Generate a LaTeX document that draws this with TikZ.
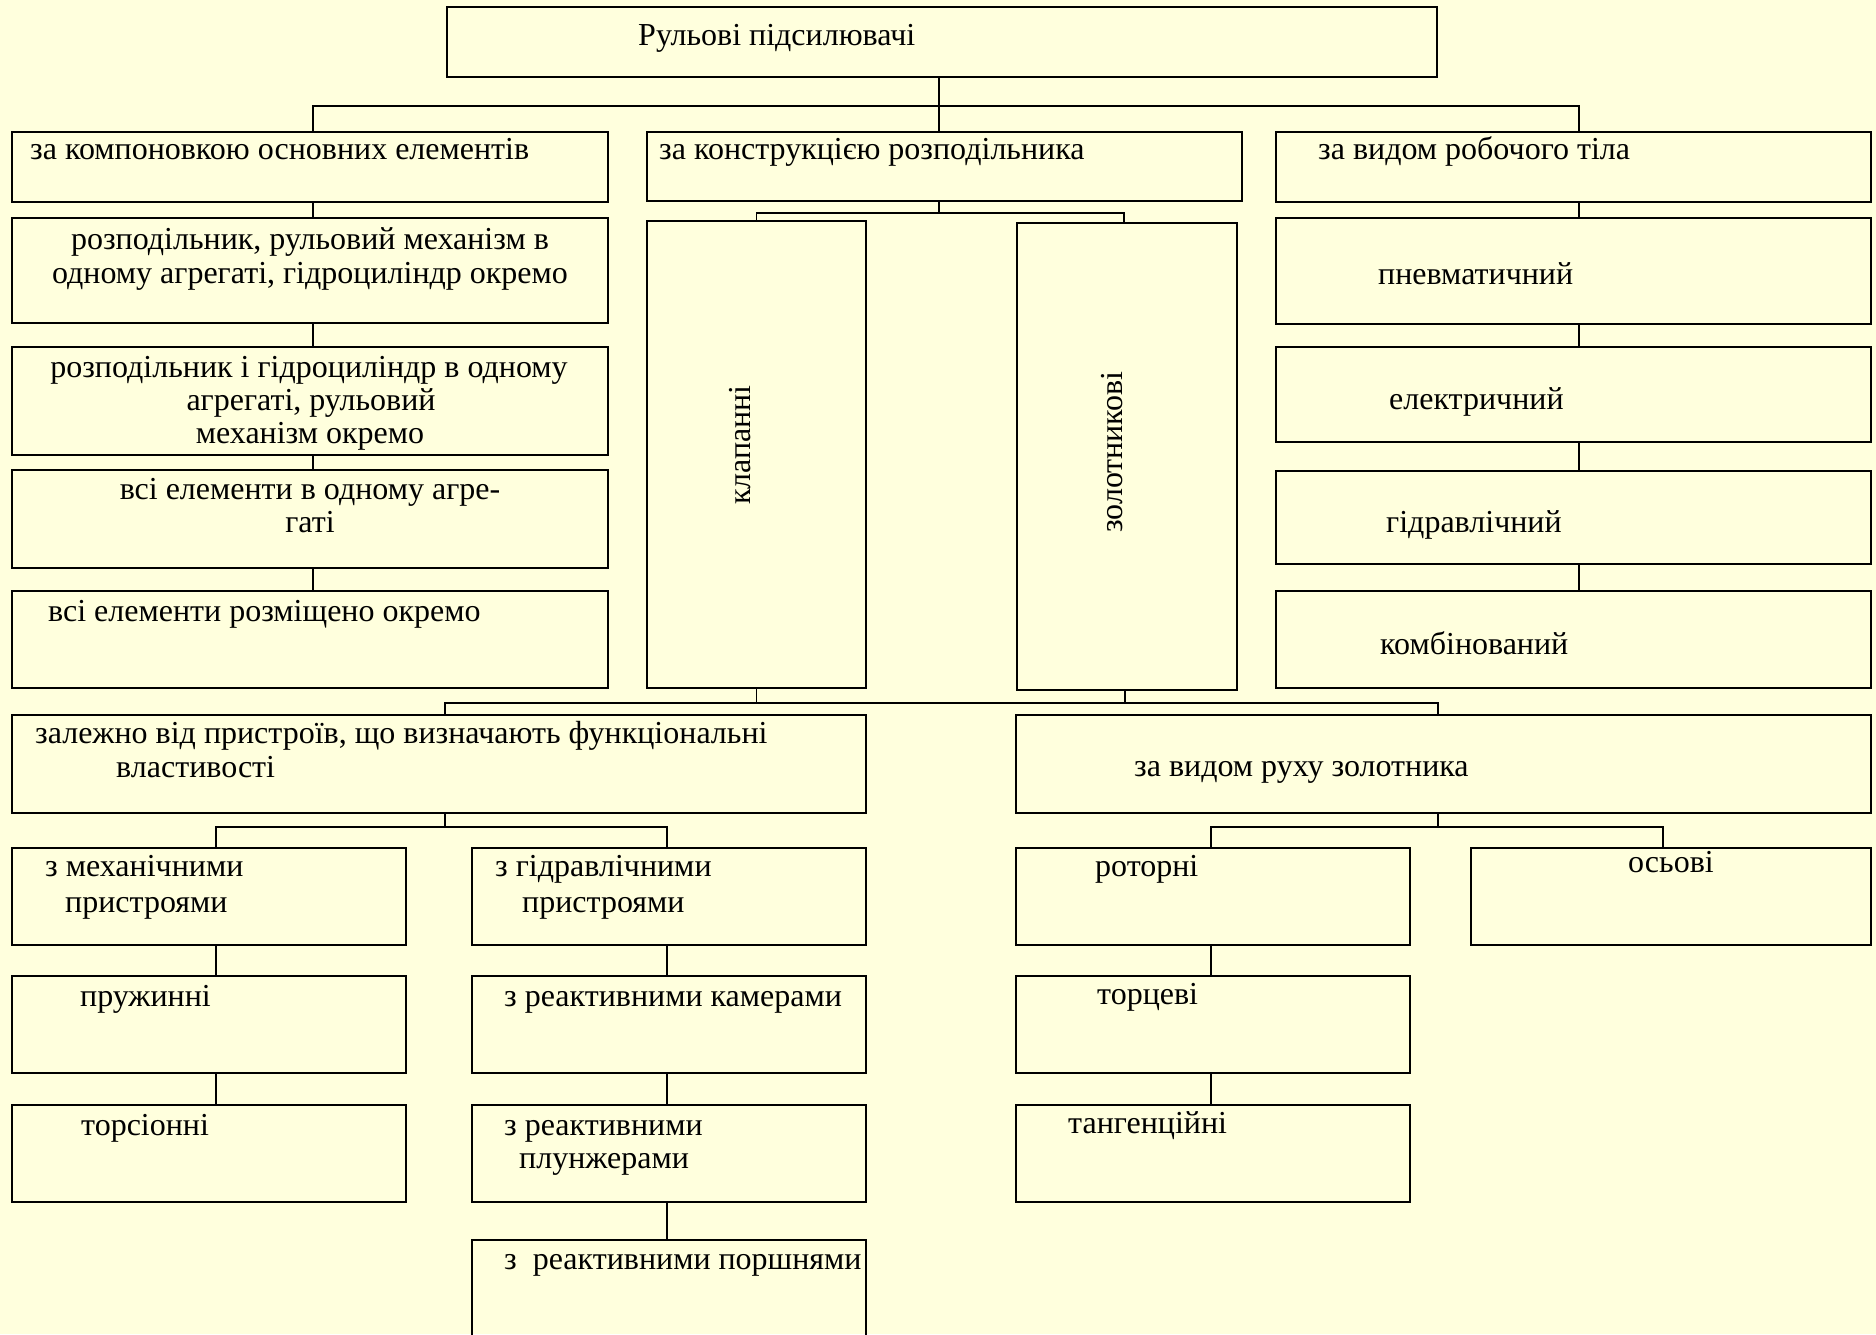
\documentclass[tikz,border=0pt]{standalone}
\usepackage{fontspec}
\setmainfont{Liberation Serif}
\definecolor{bg}{RGB}{255,255,221}
\tikzset{
  box/.style={draw=black, line width=2pt, inner sep=0pt, outer sep=0pt},
  conn/.style={draw=black, line width=1.6pt},
  txt/.style={inner sep=0pt, anchor=base west, font=\fontsize{32}{36}\selectfont},
  ctxt/.style={txt, anchor=base},
}
\newcommand\bx[5]{\node[box, minimum width={(#4-#2)*1pt}, minimum height={(#5-#3)*1pt}] (#1) at ({(#2+#4)/2},{(#3+#5)/2}) {};}
\begin{document}
\begin{tikzpicture}[x=1pt,y=-1pt]
\fill[bg] (0,0) rectangle (1876,1334);
\useasboundingbox (0,0) rectangle (1876,1334);
\clip (0,0) rectangle (1876,1334);
% boxes
\bx{top}{447}{7}{1437}{77}
\bx{b1}{12}{132}{608}{202}
\bx{b2}{647}{132}{1242}{201}
\bx{b3}{1276}{132}{1871}{202}
\bx{l1}{12}{218}{608}{323}
\bx{l2}{12}{347}{608}{455}
\bx{l3}{12}{470}{608}{568}
\bx{l4}{12}{591}{608}{688}
\bx{kl}{647}{221}{866}{688}
\bx{zl}{1017}{223}{1237}{690}
\bx{r1}{1276}{218}{1871}{324}
\bx{r2}{1276}{347}{1871}{442}
\bx{r3}{1276}{471}{1871}{564}
\bx{r4}{1276}{591}{1871}{688}
\bx{zal}{12}{715}{866}{813}
\bx{vrz}{1016}{715}{1871}{813}
\bx{mech}{12}{848}{406}{945}
\bx{hyd}{472}{848}{866}{945}
\bx{pruzh}{12}{976}{406}{1073}
\bx{kam}{472}{976}{866}{1073}
\bx{tors}{12}{1105}{406}{1202}
\bx{plun}{472}{1105}{866}{1202}
\bx{porsh}{472}{1240}{866}{1350}
\bx{rot}{1016}{848}{1410}{945}
\bx{os}{1471}{848}{1871}{945}
\bx{torc}{1016}{976}{1410}{1073}
\bx{tang}{1016}{1105}{1410}{1202}
% connectors
\draw[conn] ([xshift=-3pt]top.south) -- ++(0,29) coordinate (h1);
\draw[conn] ([xshift=3pt]b1.north) |- (h1) -| ([xshift=5.5pt]b3.north);
\draw[conn] (h1) -- (h1 |- b2.north);
\draw[conn] ([xshift=-5.5pt]b2.south) -- ++(0,12) coordinate (h2);
\draw[conn] (kl.north) |- (h2) -| ([xshift=-3pt]zl.north);
\draw[conn] ([xshift=3pt]b1.south) -- ([xshift=3pt]l1.north);
\draw[conn] ([xshift=3pt]l1.south) -- ([xshift=3pt]l2.north);
\draw[conn] ([xshift=3pt]l2.south) -- ([xshift=3pt]l3.north);
\draw[conn] ([xshift=3pt]l3.south) -- ([xshift=3pt]l4.north);
\draw[conn] ([xshift=5.5pt]b3.south) -- ([xshift=5.5pt]r1.north);
\draw[conn] ([xshift=5.5pt]r1.south) -- ([xshift=5.5pt]r2.north);
\draw[conn] ([xshift=5.5pt]r2.south) -- ([xshift=5.5pt]r3.north);
\draw[conn] ([xshift=5.5pt]r3.south) -- ([xshift=5.5pt]r4.north);
\draw[conn] ([xshift=6pt]zal.north) -- ++(0,-12) coordinate (h3) -| ([xshift=-5.5pt]vrz.north);
\draw[conn] (kl.south) -- (kl.south |- h3);
\draw[conn] ([xshift=-2pt]zl.south) -- ([xshift=-2pt]zl.south |- h3);
\draw[conn] ([xshift=6pt]zal.south) -- ++(0,14) coordinate (h4);
\draw[conn] ([xshift=7pt]mech.north) |- (h4) -| ([xshift=-2pt]hyd.north);
\draw[conn] ([xshift=-5.5pt]vrz.south) -- ++(0,14) coordinate (h5);
\draw[conn] ([xshift=-2pt]rot.north) |- (h5) -| ([xshift=-8pt]os.north);
\draw[conn] ([xshift=7pt]mech.south) -- ([xshift=7pt]pruzh.north);
\draw[conn] ([xshift=7pt]pruzh.south) -- ([xshift=7pt]tors.north);
\draw[conn] ([xshift=-2pt]hyd.south) -- ([xshift=-2pt]kam.north);
\draw[conn] ([xshift=-2pt]kam.south) -- ([xshift=-2pt]plun.north);
\draw[conn] ([xshift=-2pt]plun.south) -- ([xshift=-2pt]porsh.north);
\draw[conn] ([xshift=-2pt]rot.south) -- ([xshift=-2pt]torc.north);
\draw[conn] ([xshift=-2pt]torc.south) -- ([xshift=-2pt]tang.north);
% texts
\node[txt] (ttop) at (638,45) {Рульові підсилювачі};
\node[txt] (tb1) at (30,159) {за компоновкою основних елементів};
\node[txt] (tb2) at (659,159) {за конструкцією розподільника};
\node[txt] (tb3) at (1318,159) {за видом робочого тіла};
\node[ctxt] (tl1a) at (310,249) {розподільник, рульовий механізм в};
\node[ctxt] (tl1b) at (310,283) {одному агрегаті, гідроциліндр окремо};
\node[ctxt] (tl2a) at (309,377) {розподільник і гідроциліндр в одному};
\node[ctxt] (tl2b) at (311,410) {агрегаті, рульовий};
\node[ctxt] (tl2c) at (310,443) {механізм окремо};
\node[ctxt] (tl3a) at (310,499) {всі елементи в одному агре-};
\node[ctxt] (tl3b) at (310,532) {гаті};
\node[txt] (tl4) at (48,621) {всі елементи розміщено окремо};
\node[txt, anchor=center, rotate=90] (tkl) at (740,445) {клапанні};
\node[txt, anchor=center, rotate=90] (tzl) at (1112,452) {золотникові};
\node[txt] (tr1) at (1378,284) {пневматичний};
\node[txt] (tr2) at (1389,409) {електричний};
\node[txt] (tr3) at (1386,532) {гідравлічний};
\node[txt] (tr4) at (1380,654) {комбінований};
\node[txt] (tzala) at (35,743) {залежно від пристроїв, що визначають функціональні};
\node[txt] (tzalb) at (116,777) {властивості};
\node[txt] (tvrz) at (1134,776) {за видом руху золотника};
\node[txt] (tmecha) at (45,876) {з механічними};
\node[txt] (tmechb) at (65,912) {пристроями};
\node[txt] (thyda) at (495,876) {з гідравлічними};
\node[txt] (thydb) at (522,912) {пристроями};
\node[txt] (tpruzh) at (80,1006) {пружинні};
\node[txt] (tkam) at (504,1006) {з реактивними камерами};
\node[txt] (ttors) at (81,1135) {торсіонні};
\node[txt] (tpluna) at (504,1135) {з реактивними};
\node[txt] (tplunb) at (519,1168) {плунжерами};
\node[txt] (tporsh) at (504,1269) {з\ \ реактивними поршнями};
\node[txt] (trot) at (1095,876) {роторні};
\node[txt] (tos) at (1628,872) {осьові};
\node[txt] (ttorc) at (1097,1004) {торцеві};
\node[txt] (ttang) at (1068,1133) {тангенційні};
\end{tikzpicture}
\end{document}
